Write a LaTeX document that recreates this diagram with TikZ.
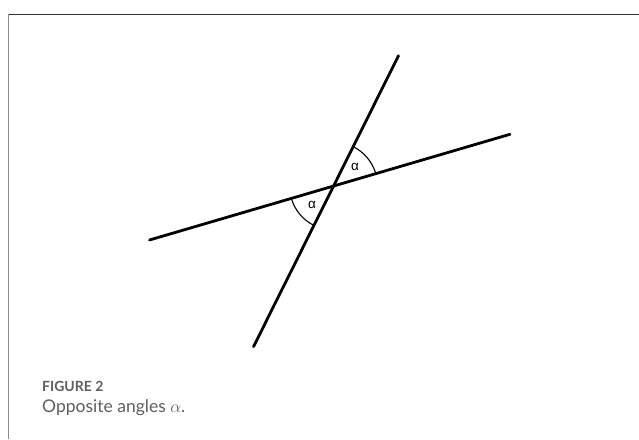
\documentclass[tikz,border=0pt]{standalone}
\usepackage{fontspec}
\setmainfont{Lato}
\newfontfamily\labelfont{Liberation Sans}
\usepackage{tikz}
\usetikzlibrary{calc, positioning}
\definecolor{fgray}{HTML}{8A8A8A}
\definecolor{fdark}{HTML}{333333}
\definecolor{fcap}{HTML}{5E5E5E}
\tikzset{
  ray/.style={draw=black, line width=2.8pt, line cap=round},
  anglearc/.style={draw=black, line width=1.1pt},
  anglelabel/.style={font=\labelfont\fontsize{13.5}{13.5}\selectfont, inner sep=0pt},
}

\begin{document}
\begin{tikzpicture}[
    x=1pt, y=1pt,
    captitle/.style={anchor=base west, inner sep=0pt, text=fcap, font=\fontsize{14}{14}\selectfont\bfseries},
    captext/.style={anchor=base west, inner sep=0pt, text=fcap, font=\fontsize{17.5}{17.5}\selectfont},
  ]
  \useasboundingbox (0,0) rectangle (639,439);

  % frame
  \coordinate (fl) at (8.5,0);
  \coordinate (ftl) at (8.5,424.7);
  \coordinate (ftr) at (639,424.7);
  \draw[fgray, line width=1.8pt] (fl) -- (ftl);
  \draw[fdark, line width=1pt] (ftl) -- (ftr);

  % the two lines
  \coordinate (top) at (398.5,383.3);
  \coordinate (bottom) at (253.5,92.3);
  \coordinate (left) at (149.5,199);
  \coordinate (right) at (510,304.7);
  \coordinate (o) at (intersection of top--bottom and left--right);

  \draw[ray] (bottom) -- (top);
  \draw[ray] (left) -- (right);

  \draw[anglearc] (o) ++(16.4:44) arc[start angle=16.4, end angle=63.5, radius=44];
  \draw[anglearc] (o) ++(196.4:44) arc[start angle=196.4, end angle=243.5, radius=44];

  \node[anglelabel] (alpha1) at ($(o)+(21.5,18.8)$) {α};
  \node[anglelabel] (alpha2) at ($(o)+(-21.5,-18.8)$) {α};

  \node[captitle] (figno) at (42,48) {FIGURE 2};
  \node[captext] (caption) at (42,26.5) {Opposite angles $\alpha$.};

\end{tikzpicture}
\end{document}
